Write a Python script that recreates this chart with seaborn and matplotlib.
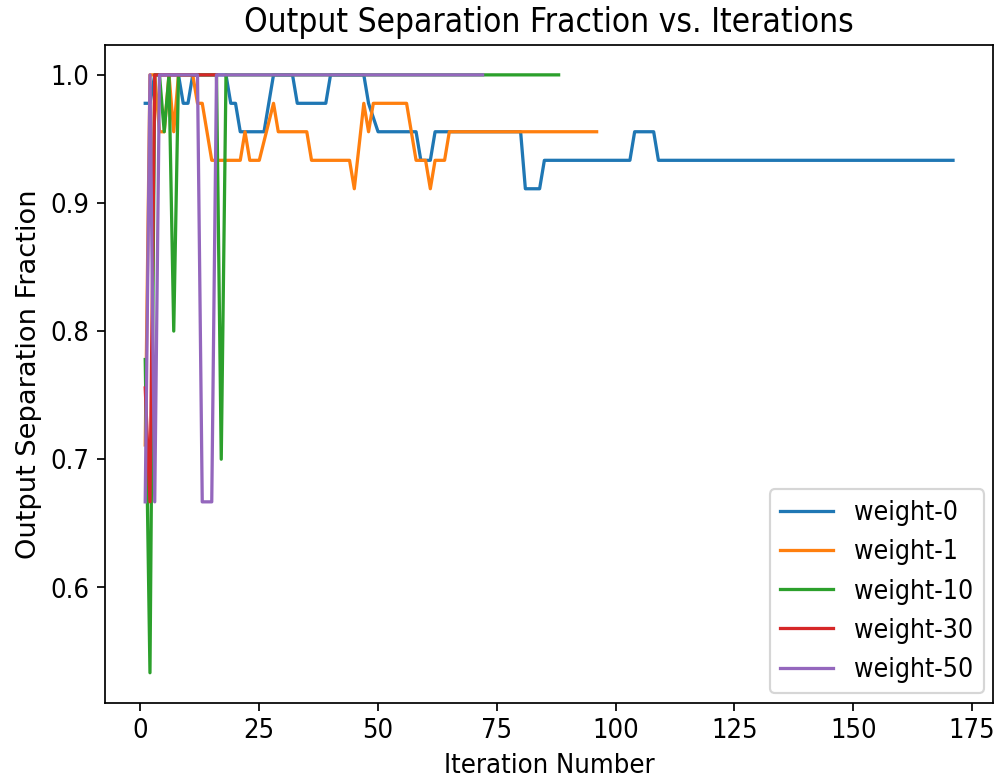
import matplotlib
matplotlib.use("Agg")
import matplotlib.pyplot as plt
from matplotlib import font_manager
import pandas as pd
import seaborn as sns

# Vertices of each run (iteration, output separation fraction)
weight_0_iter = [1, 2, 3, 8, 9, 10, 11, 18, 19, 20, 21, 26, 27, 28, 32, 33, 39, 40,
                 47, 48, 50, 58, 59, 61, 62, 80, 81, 84, 85, 103, 104, 108, 109, 171]
weight_0_frac = [0.9778, 0.9778, 1.0, 1.0, 0.9778, 0.9778, 1.0, 1.0, 0.9778, 0.9778,
                 0.9556, 0.9556, 0.9778, 1.0, 1.0, 0.9778, 0.9778, 1.0, 1.0, 0.9778,
                 0.9556, 0.9556, 0.9333, 0.9333, 0.9556, 0.9556, 0.9111, 0.9111,
                 0.9333, 0.9333, 0.9556, 0.9556, 0.9333, 0.9333]

weight_1_iter = [1, 2, 3, 4, 5, 6, 7, 8, 11, 12, 13, 15, 21, 22, 23, 25, 28, 29, 35,
                 36, 44, 45, 47, 48, 49, 56, 57, 58, 60, 61, 62, 64, 65, 96]
weight_1_frac = [0.7111, 1.0, 1.0, 0.9556, 0.9556, 1.0, 0.9556, 1.0, 1.0, 0.9778,
                 0.9778, 0.9333, 0.9333, 0.9556, 0.9333, 0.9333, 0.9778, 0.9556,
                 0.9556, 0.9333, 0.9333, 0.9111, 0.9778, 0.9556, 0.9778, 0.9778,
                 0.9556, 0.9333, 0.9333, 0.9111, 0.9333, 0.9333, 0.9556, 0.9556]

weight_10_iter = [1, 2, 3, 4, 5, 6, 7, 8, 16, 17, 18, 88]
weight_10_frac = [0.7778, 0.5333, 1.0, 1.0, 0.9556, 1.0, 0.8, 1.0, 1.0, 0.7, 1.0, 1.0]

weight_30_iter = [1, 2, 3, 16]
weight_30_frac = [0.7556, 0.6667, 1.0, 1.0]

weight_50_iter = [1, 2, 3, 4, 12, 13, 15, 16, 72]
weight_50_frac = [0.6667, 1.0, 0.6667, 1.0, 1.0, 0.6667, 0.6667, 1.0, 1.0]

series_names = ["weight-0", "weight-1", "weight-10", "weight-30", "weight-50"]
series_iters = [weight_0_iter, weight_1_iter, weight_10_iter, weight_30_iter, weight_50_iter]
series_fracs = [weight_0_frac, weight_1_frac, weight_10_frac, weight_30_frac, weight_50_frac]

frames = []
for name, it, fr in zip(series_names, series_iters, series_fracs):
    frames.append(pd.DataFrame({"Iteration": it, "Fraction": fr, "run": name}))
df = pd.concat(frames, ignore_index=True)

colors = ["#1f77b4", "#ff7f0e", "#2ca02c", "#d62728", "#9467bd"]

# The reference text looks tall and narrow; use the condensed face if present
cond_path = font_manager.findfont(
    font_manager.FontProperties(family="DejaVu Sans", stretch="condensed"))
if "Condensed" in cond_path:
    plt.rcParams["font.stretch"] = "condensed"
    base = 12.6
else:
    base = 11.5
plt.rcParams["font.size"] = base
plt.rcParams["axes.titlesize"] = base * 1.22
plt.rcParams["xtick.labelsize"] = base
plt.rcParams["ytick.labelsize"] = base
plt.rcParams["legend.fontsize"] = base * 0.97

fig, ax = plt.subplots(figsize=(6.4, 4.995), dpi=156)
sns.lineplot(data=df, x="Iteration", y="Fraction", hue="run", hue_order=series_names,
             palette=colors, estimator=None, sort=False, linewidth=1.5, ax=ax)

ax.set_title("Output Separation Fraction vs. Iterations")
ax.set_xlabel("Iteration Number")
ax.set_ylabel("Output Separation Fraction", fontsize=12.6, fontstretch="normal")
ax.set_xticks([0, 25, 50, 75, 100, 125, 150, 175])
ax.set_yticks([0.6, 0.7, 0.8, 0.9, 1.0])
ax.legend(loc="lower right", borderaxespad=0.35)

plt.subplots_adjust(left=0.105, right=0.995, bottom=0.098, top=0.942)
plt.savefig("out.png", dpi=156)
